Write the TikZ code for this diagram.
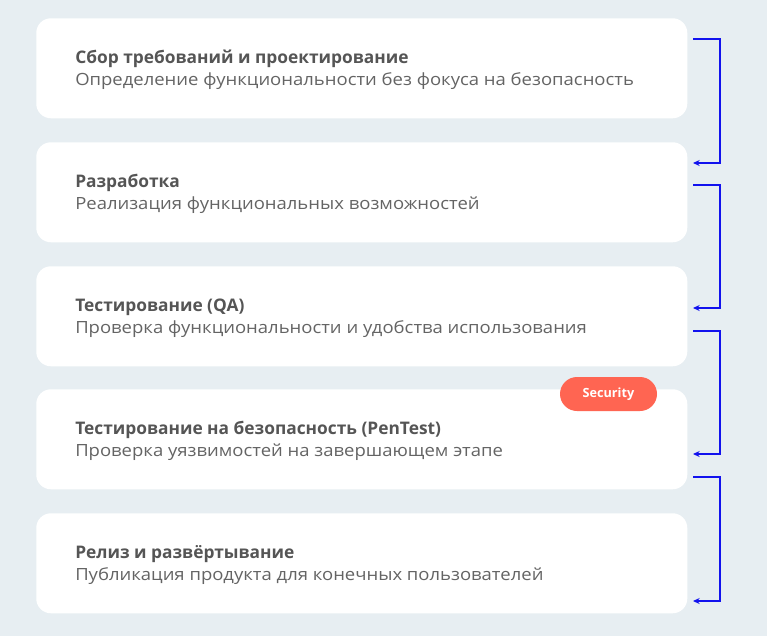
\documentclass[tikz,border=0pt]{standalone}
\usepackage{fontspec}
\setmainfont{Open Sans}
\newfontfamily\widefont[FakeStretch=1.1]{Open Sans}
\usepackage{tikz}
\usetikzlibrary{arrows.meta,positioning}

\definecolor{PageBg}{RGB}{231,238,242}
\definecolor{TitleGray}{RGB}{85,85,85}
\definecolor{SubGray}{RGB}{100,100,100}
\definecolor{LinkBlue}{RGB}{18,18,238}
\definecolor{BadgeRed}{RGB}{255,101,82}

\begin{document}
\begin{tikzpicture}[x=0.75pt, y=-0.75pt]
		\tikzstyle{Stage}	= [rectangle, fill=white, rounded corners=11pt, minimum width=488.25pt, minimum height=75pt, inner sep=0pt, anchor=north west]
		\tikzstyle{Title}	= [anchor=base west, inner sep=0pt, text=TitleGray, font=\fontsize{13}{16}\selectfont\bfseries]
		\tikzstyle{Sub}		= [anchor=base west, inner sep=0pt, text=SubGray, font=\widefont\fontsize{12.6}{15}\selectfont]
		\tikzstyle{Link}	= [LinkBlue, line width=1.5pt, -{Stealth[length=5pt, width=4.5pt]}]
		\tikzstyle{Badge}	= [rectangle, rounded corners=12.75pt, fill=BadgeRed, text=white, minimum width=72.75pt, minimum height=25.5pt, inner sep=0pt, font=\fontsize{9.5}{11}\selectfont\bfseries]

		\fill [PageBg] (0,0) rectangle (767,636);
		\useasboundingbox (0,0) rectangle (767,636);

		\node (b1) at (36, 18) [Stage] {};
		\node (b2) at (36,142) [Stage] {};
		\node (b3) at (36,266) [Stage] {};
		\node (b4) at (36,389) [Stage] {};
		\node (b5) at (36,513) [Stage] {};

		\node (t1) at (75, 63) [Title] {Сбор требований и проектирование};
		\node (s1) at (75, 85) [Sub] {Определение функциональности без фокуса на безопасность};
		\node (t2) at (75,187) [Title] {Разработка};
		\node (s2) at (75,209) [Sub] {Реализация функциональных возможностей};
		\node (t3) at (75,311) [Title] {Тестирование (QA)};
		\node (s3) at (75,333) [Sub] {Проверка функциональности и удобства использования};
		\node (t4) at (75,434) [Title] {Тестирование на безопасность (PenTest)};
		\node (s4) at (75,456) [Sub] {Проверка уязвимостей на завершающем этапе};
		\node (t5) at (75,558) [Title] {Релиз и развёртывание};
		\node (s5) at (75,580) [Sub] {Публикация продукта для конечных пользователей};

		\node (sec) at (608.5,394) [Badge] {Security};

		\coordinate (a1) at (693, 39);  \coordinate (e1) at (693,163);
		\coordinate (a2) at (693,185);  \coordinate (e2) at (693,308);
		\coordinate (a3) at (693,331);  \coordinate (e3) at (693,454);
		\coordinate (a4) at (693,477);  \coordinate (e4) at (693,601);

		\draw [Link] (a1) -- ++(27,0) |- (e1);
		\draw [Link] (a2) -- ++(27,0) |- (e2);
		\draw [Link] (a3) -- ++(27,0) |- (e3);
		\draw [Link] (a4) -- ++(27,0) |- (e4);
	\end{tikzpicture}
\end{document}
